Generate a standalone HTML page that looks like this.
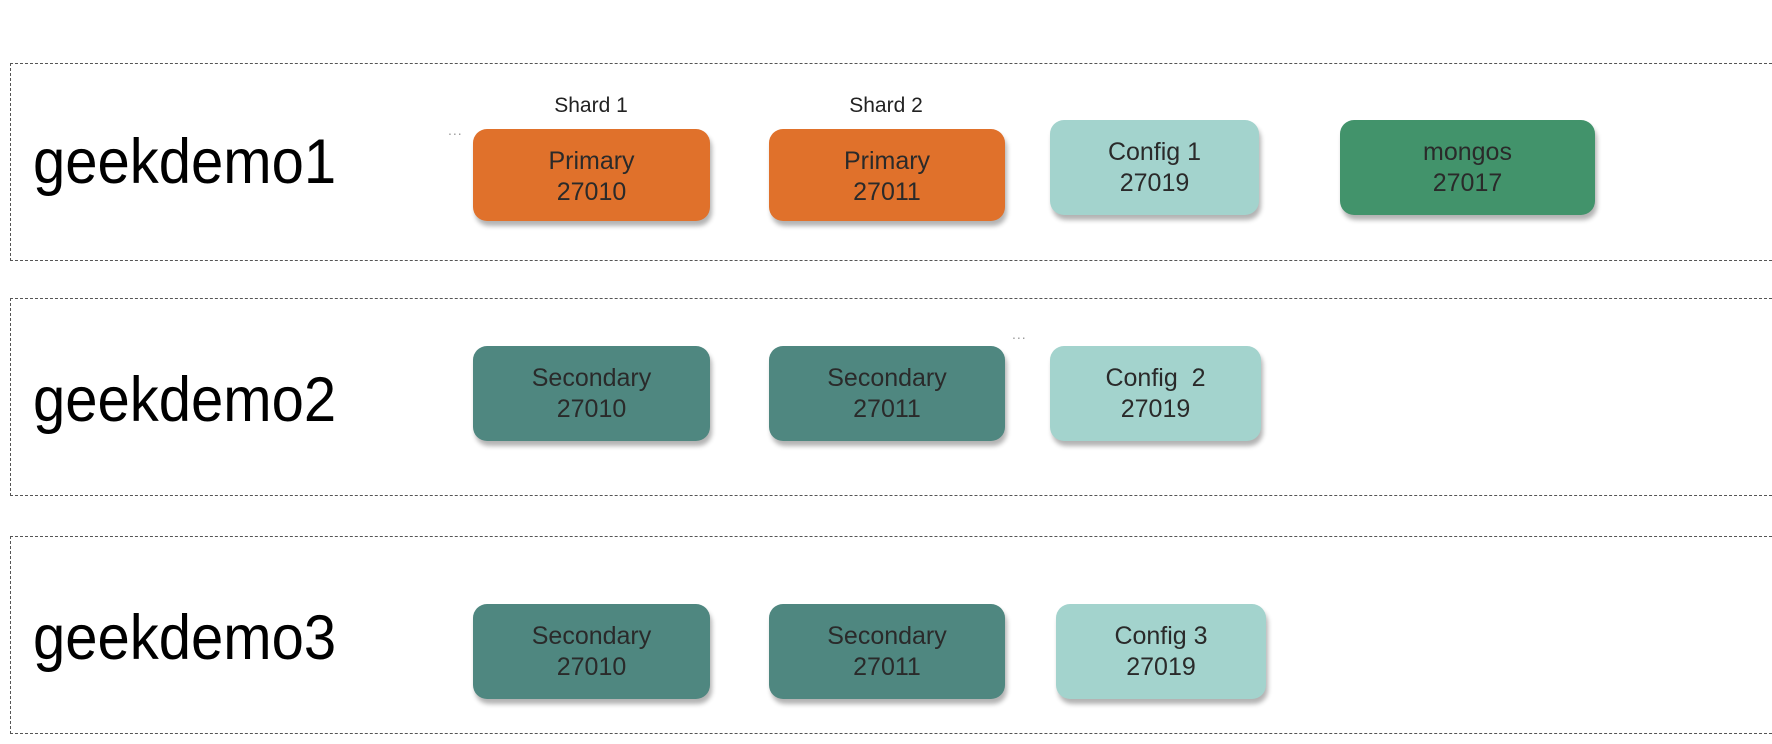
<!DOCTYPE html>
<html><head><meta charset="utf-8"><style>
body{margin:0;width:1772px;height:744px;background:#fff;position:relative;overflow:hidden;font-family:"Liberation Sans",sans-serif}
.g{position:absolute;left:10px;right:-5px;border:1.5px dashed #555;}
.l{position:absolute;left:33px;font-size:58px;color:#000;transform:scaleY(1.08);transform-origin:left top}
.n{position:absolute;border-radius:14px;color:#2a2a2a;font-size:25px;line-height:31px;text-align:center;display:flex;flex-direction:column;justify-content:center;box-shadow:2px 5px 5px rgba(0,0,0,0.3)}
.o{background:#E0712B}.d{background:#4F8780}.c{background:#A3D3CD}.m{background:#42936B}
.s{position:absolute;font-size:21px;color:#222;transform:translateX(-50%)}
.dots{position:absolute;color:#999;font-size:14px;letter-spacing:1px}
</style></head><body>
<div class="g" style="top:63px;height:196px"></div>
<div class="g" style="top:298px;height:196px"></div>
<div class="g" style="top:536px;height:196px"></div>
<div class="l" style="top:126px">geekdemo1</div>
<div class="l" style="top:364px">geekdemo2</div>
<div class="l" style="top:602px">geekdemo3</div>
<div class="s" style="left:591px;top:94px">Shard 1</div>
<div class="s" style="left:886px;top:94px">Shard 2</div>
<div class="dots" style="left:448px;top:122px">...</div>
<div class="dots" style="left:808px;top:124px">...</div>
<div class="dots" style="left:1012px;top:326px">...</div>
<div class="n o" style="left:473px;top:129px;width:237px;height:92px;padding-top:4px;box-sizing:border-box"><div>Primary</div><div>27010</div></div>
<div class="n o" style="left:769px;top:129px;width:236px;height:92px;padding-top:4px;box-sizing:border-box"><div>Primary</div><div>27011</div></div>
<div class="n c" style="left:1050px;top:120px;width:209px;height:95px"><div>Config 1</div><div>27019</div></div>
<div class="n m" style="left:1340px;top:120px;width:255px;height:95px"><div>mongos</div><div>27017</div></div>
<div class="n d" style="left:473px;top:346px;width:237px;height:95px"><div>Secondary</div><div>27010</div></div>
<div class="n d" style="left:769px;top:346px;width:236px;height:95px"><div>Secondary</div><div>27011</div></div>
<div class="n c" style="left:1050px;top:346px;width:211px;height:95px"><div>Config&nbsp; 2</div><div>27019</div></div>
<div class="n d" style="left:473px;top:604px;width:237px;height:95px"><div>Secondary</div><div>27010</div></div>
<div class="n d" style="left:769px;top:604px;width:236px;height:95px"><div>Secondary</div><div>27011</div></div>
<div class="n c" style="left:1056px;top:604px;width:210px;height:95px"><div>Config 3</div><div>27019</div></div>
</body></html>
